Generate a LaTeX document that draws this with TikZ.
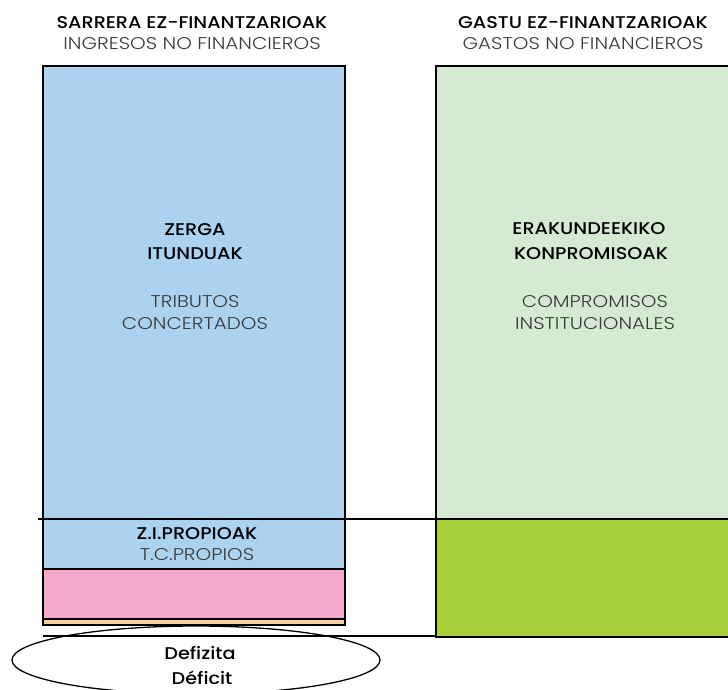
\documentclass[tikz,border=0pt]{standalone}
\usepackage{fontspec}
\setmainfont{Poppins}
\newfontfamily\lightf{Poppins Light}[FakeStretch=1.17]
\newfontfamily\medf{Poppins Medium}[FakeStretch=1.13]
\definecolor{blueA}{HTML}{ABD3F0}
\definecolor{greenL}{HTML}{D6EAD3}
\definecolor{greenD}{HTML}{A8CF38}
\definecolor{pinkA}{HTML}{F4A9CC}
\definecolor{peachA}{HTML}{F9CFA0}
\definecolor{greyT}{HTML}{3A3A3A}
\tikzset{
  hd/.style={font=\medf\fontsize{17}{19}\selectfont, text=black, inner sep=0pt},
  lt/.style={font=\lightf\fontsize{17}{19}\selectfont, text=greyT, inner sep=0pt},
  bx/.style={draw=black, line width=1.6pt},
  sep/.style={draw=black, line width=1.3pt}
}
\begin{document}
\begin{tikzpicture}[x=1pt,y=-1pt]
\useasboundingbox (0,0) rectangle (728,690);
\clip (0,0) rectangle (728,690);
% left column
\fill[blueA] (43,66) rectangle (345,569);
\fill[pinkA] (43,569) rectangle (345,619);
\fill[peachA] (43,619) rectangle (345,625);
\draw[bx] (43,66) rectangle (345,625);
\draw[sep] (43,569) -- (345,569);
\draw[sep] (43,619) -- (345,619);
% right column
\fill[greenL] (436,66) rectangle (740,519);
\fill[greenD] (436,519) rectangle (740,637);
\draw[bx] (740,66) -- (436,66) -- (436,637) -- (740,637);
\draw[line width=2.6pt] (436,519) -- (740,519);
\draw[line width=2.6pt] (436,637) -- (740,637);
\draw[line width=2.4pt] (436,66) -- (436,637);
% long lines
\draw[sep] (38,519) -- (740,519);
\draw[sep] (43,636) -- (436,636);
% ellipse
\draw[line width=1.3pt] (196,660) ellipse [x radius=184, y radius=34];
% texts
\node[hd] (t1) at (192,23) {SARRERA EZ-FINANTZARIOAK};
\node[lt] (t2) at (192,44) {INGRESOS NO FINANCIEROS};
\node[hd] (t3) at (583,23) {GASTU EZ-FINANTZARIOAK};
\node[lt] (t4) at (583,44) {GASTOS NO FINANCIEROS};
\node[hd] (z1) at (195,230) {ZERGA};
\node[hd] (z2) at (195,254) {ITUNDUAK};
\node[lt] (z3) at (195,302) {TRIBUTOS};
\node[lt] (z4) at (195,324) {CONCERTADOS};
\node[hd] (e1) at (589,229) {ERAKUNDEEKIKO};
\node[hd] (e2) at (591,254) {KONPROMISOAK};
\node[lt] (e3) at (595,302) {COMPROMISOS};
\node[lt] (e4) at (595,324) {INSTITUCIONALES};
\node[hd] (p1) at (197,534) {Z.I.PROPIOAK};
\node[lt] (p2) at (197,555) {T.C.PROPIOS};
\node[hd] (d1) at (200,653) {Defizita};
\node[hd] (d2) at (202,678) {Déficit};
\end{tikzpicture}
\end{document}
